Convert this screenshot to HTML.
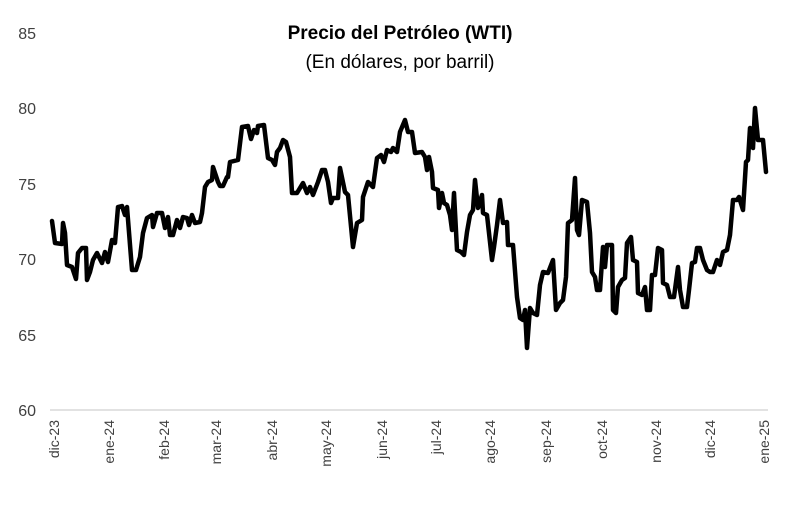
<!DOCTYPE html>
<html><head><meta charset="utf-8"><style>
html,body{margin:0;padding:0;background:#fff}
svg text{font-family:"Liberation Sans",sans-serif}
</style></head><body>
<svg width="802" height="503" viewBox="0 0 802 503" xmlns="http://www.w3.org/2000/svg">
<rect width="802" height="503" fill="#fff"/>
<text x="400" y="39" text-anchor="middle" font-size="19" font-weight="bold" fill="#000">Precio del Petróleo (WTI)</text>
<text x="400" y="68" text-anchor="middle" font-size="19" fill="#000">(En dólares, por barril)</text>
<g font-size="16" fill="#404040" text-anchor="end">
<text x="36" y="39">85</text>
<text x="36" y="114">80</text>
<text x="36" y="190">75</text>
<text x="36" y="265">70</text>
<text x="36" y="341">65</text>
<text x="36" y="416">60</text>
</g>
<line x1="50" y1="410" x2="768" y2="410" stroke="#d9d9d9" stroke-width="1.5"/>
<g font-size="14" fill="#404040" text-anchor="end">
<text transform="translate(59,420) rotate(-90)">dic-23</text>
<text transform="translate(114,420) rotate(-90)">ene-24</text>
<text transform="translate(169,420) rotate(-90)">feb-24</text>
<text transform="translate(221,420) rotate(-90)">mar-24</text>
<text transform="translate(277,420) rotate(-90)">abr-24</text>
<text transform="translate(331,420) rotate(-90)">may-24</text>
<text transform="translate(387,420) rotate(-90)">jun-24</text>
<text transform="translate(441,420) rotate(-90)">jul-24</text>
<text transform="translate(495,420) rotate(-90)">ago-24</text>
<text transform="translate(551,420) rotate(-90)">sep-24</text>
<text transform="translate(607,420) rotate(-90)">oct-24</text>
<text transform="translate(661,420) rotate(-90)">nov-24</text>
<text transform="translate(715,420) rotate(-90)">dic-24</text>
<text transform="translate(769,420) rotate(-90)">ene-25</text>
</g>
<polyline fill="none" stroke="#000" stroke-width="4.5" stroke-linejoin="round" stroke-linecap="round" points="
52,221 55,243 62,244 63,223 65,233 67,265 72,267 76,279 78,253 82,248 86,248 87,280 90,272 93,260 97,253 102,263 105,252 108,262 112,240 115,243 118,207 122,206 125,215 127,207 132,270 136,270 140,257 143,233 147,218 152,215 153,227 157,213 162,213 165,228 168,217 170,235 173,235 177,220 180,228 183,217 187,218 189,225 192,215 195,223 200,222 202,213 205,187 208,182 212,180 213,167 218,182 220,186 223,186 227,177 228,177 230,162 238,160 242,127 248,126 251,139 254,130 257,133 258,126 264,125 268,158 272,160 275,165 277,152 280,148 283,140 286,142 290,157 292,193 297,193 303,183 307,193 310,187 313,195 318,182 322,170 325,170 328,182 331,203 333,198 338,198 340,168 345,192 348,195 353,247 357,223 362,220 363,197 368,182 373,187 377,158 381,155 384,162 387,150 391,152 393,148 397,152 400,132 405,120 408,132 412,132 415,153 422,152 425,157 427,170 429,157 432,172 433,188 438,190 439,208 442,193 444,203 447,205 450,215 452,230 454,193 457,250 461,252 464,255 467,232 470,215 473,210 475,180 478,208 482,195 483,213 487,215 492,260 494,247 497,225 500,200 503,223 507,222 508,245 513,245 517,297 520,318 523,320 525,310 527,348 530,308 533,313 537,315 540,285 543,272 548,273 553,260 556,310 560,303 563,300 566,277 568,223 572,220 575,178 577,230 579,235 582,200 587,202 590,233 592,272 595,277 597,290 600,290 603,247 605,267 607,245 612,245 613,310 616,313 618,287 622,280 625,278 627,243 631,237 633,260 637,262 638,293 642,295 645,287 647,310 650,310 652,275 655,275 658,248 662,250 663,283 667,285 670,297 674,297 678,267 680,290 683,307 687,307 689,290 692,263 695,262 697,248 700,248 703,260 707,270 710,272 713,272 717,260 720,265 723,252 727,250 730,235 733,200 737,200 739,197 743,210 746,162 748,160 750,128 753,148 755,108 758,140 763,140 766,172"/>
</svg>
</body></html>
